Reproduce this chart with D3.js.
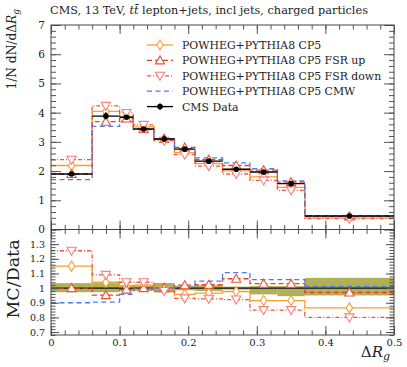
<!DOCTYPE html>
<html><head><meta charset="utf-8">
<script src="https://cdn.jsdelivr.net/npm/d3@7"></script>
<style>
html,body{margin:0;padding:0;background:#fff;}
svg{display:block;}
text{font-family:"DejaVu Serif","Liberation Serif",serif;fill:#222;}
</style></head>
<body>
<script>
// ---------- data ----------
const binEdges = [0, 0.06, 0.1, 0.12, 0.15, 0.18, 0.21, 0.25, 0.29, 0.33, 0.37, 0.5];
const binCenters = [0.03, 0.08, 0.11, 0.135, 0.165, 0.195, 0.23, 0.27, 0.31, 0.35, 0.435];
const cmsData = [1.90, 3.88, 3.84, 3.44, 3.10, 2.75, 2.34, 2.06, 1.97, 1.57, 0.46];
const cp5 = [2.19, 4.04, 3.88, 3.51, 3.10, 2.63, 2.26, 2.01, 1.80, 1.44, 0.40];
const fsrUp = [1.90, 3.69, 3.80, 3.44, 3.10, 2.81, 2.39, 2.19, 2.03, 1.62, 0.45];
const fsrDown = [2.39, 4.23, 3.99, 3.58, 3.04, 2.56, 2.17, 1.90, 1.68, 1.34, 0.37];
const cmw = [1.71, 3.53, 3.69, 3.42, 3.10, 2.77, 2.45, 2.28, 2.08, 1.66, 0.47];
const ratioCp5 = [1.15, 1.04, 1.01, 1.02, 1.00, 0.957, 0.966, 0.977, 0.915, 0.915, 0.865];
const ratioFsrUp = [1.00, 0.952, 0.99, 1.00, 1.00, 1.02, 1.023, 1.064, 1.03, 1.03, 0.97];
const ratioFsrDown = [1.255, 1.09, 1.04, 1.04, 0.98, 0.93, 0.927, 0.922, 0.85, 0.85, 0.80];
const ratioCmw = [0.90, 0.905, 0.957, 0.995, 1.00, 1.007, 1.048, 1.106, 1.058, 1.058, 1.012];
const bandHi = [1.034, 1.034, 1.02, 1.02, 1.035, 1.015, 1.02, 1.01, 1.014, 1.014, 1.07];
const bandLo = [0.972, 0.972, 0.98, 0.98, 0.97, 0.985, 0.98, 0.99, 0.957, 0.945, 0.95];
const topTicks = [0, 1, 2, 3, 4, 5, 6, 7];
const ratioTicks = [0.7, 0.8, 0.9, 1.0, 1.1, 1.2, 1.3];
const xTicks = [0, 0.1, 0.2, 0.3, 0.4, 0.5];
const legendLabels = ["POWHEG+PYTHIA8 CP5", "POWHEG+PYTHIA8 CP5 FSR up", "POWHEG+PYTHIA8 CP5 FSR down", "POWHEG+PYTHIA8 CP5 CMW", "CMS Data"];

// ---------- layout ----------
const W = 407, H = 367;
const L = 51, R = 394, T = 25, M = 229.5, B = 335;
const x = d3.scaleLinear().domain([0, 0.5]).range([L, R]);
const y = d3.scaleLinear().domain([0, 7]).range([M, T]);
const yr = d3.scaleLinear().domain([0.68, 1.4]).range([B, M]);

const svg = d3.select("body").append("svg").attr("width", W).attr("height", H);
const defs = svg.append("defs");
defs.append("clipPath").attr("id", "cTop").append("rect").attr("x", L).attr("y", T).attr("width", R - L).attr("height", M - T);
defs.append("clipPath").attr("id", "cRat").append("rect").attr("x", L).attr("y", M).attr("width", R - L).attr("height", B - M);

const styles = [
  {name: "cp5", color: "#f7a030", dash: null, marker: "diamond", mcol: "#f7a030"},
  {name: "up", color: "#e5412a", dash: "5,3", marker: "up", mcol: "#ec5438"},
  {name: "down", color: "#ee5540", dash: "4,2,1,2", marker: "down", mcol: "#f58080"},
  {name: "cmw", color: "#4a7cf0", dash: "5,3.5", marker: null, mcol: null}
];
const topSeries = [cp5, fsrUp, fsrDown, cmw];
const ratioSeries = [ratioCp5, ratioFsrUp, ratioFsrDown, ratioCmw];

function markerPath(type) {
  if (type === "diamond") return "M0,-5L3.2,0L0,5L-3.2,0Z";
  if (type === "up") return "M0,-4.5L4.6,3.5L-4.6,3.5Z";
  if (type === "down") return "M0,4.5L4.6,-3.5L-4.6,-3.5Z";
  return "";
}
function stepPts(vals) {
  const p = vals.map((v, i) => [binEdges[i], v]);
  p.push([binEdges[binEdges.length - 1], vals[vals.length - 1]]);
  return p;
}

// ---------- ratio band ----------
const gR = svg.append("g").attr("clip-path", "url(#cRat)");
gR.selectAll("rect.band").data(bandHi).join("rect")
  .attr("x", (d, i) => x(binEdges[i])).attr("width", (d, i) => x(binEdges[i + 1]) - x(binEdges[i]))
  .attr("y", d => yr(d)).attr("height", (d, i) => yr(bandLo[i]) - yr(d))
  .attr("fill", "#a3a23c").attr("opacity", 0.85);
gR.append("line").attr("x1", L).attr("x2", R).attr("y1", yr(1)).attr("y2", yr(1)).attr("stroke", "#111").attr("stroke-width", 1.2);

// ---------- MC histograms ----------
const gT = svg.append("g").attr("clip-path", "url(#cTop)");
function drawSeries(g, scaleY, seriesList) {
  const line = d3.line().x(d => x(d[0])).y(d => scaleY(d[1])).curve(d3.curveStepAfter);
  seriesList.forEach((vals, k) => {
    const s = styles[k];
    g.append("path").attr("d", line(stepPts(vals))).attr("fill", "none")
      .attr("stroke", s.color).attr("stroke-width", 1.3).attr("stroke-dasharray", s.dash);
  });
  seriesList.forEach((vals, k) => {
    const s = styles[k];
    if (!s.marker) return;
    g.selectAll(null).data(vals).join("path")
      .attr("transform", (d, i) => `translate(${x(binCenters[i])},${scaleY(d)})`)
      .attr("d", markerPath(s.marker)).attr("fill", "#fff").attr("stroke", s.mcol).attr("stroke-width", 1.1);
  });
}
drawSeries(gT, y, topSeries);
drawSeries(gR, yr, ratioSeries);

// ---------- data points ----------
const gD = gT.append("g");
cmsData.forEach((v, i) => {
  gD.append("line").attr("x1", x(binEdges[i])).attr("x2", x(binEdges[i + 1])).attr("y1", y(v)).attr("y2", y(v))
    .attr("stroke", "#000").attr("stroke-width", 1.4);
  gD.append("line").attr("x1", x(binCenters[i])).attr("x2", x(binCenters[i])).attr("y1", y(v * bandHi[i])).attr("y2", y(v * bandLo[i]))
    .attr("stroke", "#000").attr("stroke-width", 1.4);
  gD.append("circle").attr("cx", x(binCenters[i])).attr("cy", y(v)).attr("r", 2.8).attr("fill", "#000");
});

// ---------- axes ----------
const tickCol = "#555";
function styleAxis(g) {
  g.select(".domain").remove();
  g.selectAll(".tick line").attr("stroke", tickCol);
  g.selectAll("text").attr("font-family", "DejaVu Serif").attr("fill", "#222");
}
const xMinor = d3.range(0, 0.5001, 0.02).map(v => +v.toFixed(2));
const topMinor = d3.range(0, 7.0001, 0.2).map(v => +v.toFixed(1));
const ratMinor = d3.range(0.68, 1.4001, 0.02).map(v => +v.toFixed(2));

[[T, d3.axisTop], [M, d3.axisBottom]].forEach(([py, ax]) => {
  svg.append("g").attr("transform", `translate(0,${py})`).call(ax(x).tickValues(xMinor).tickSize(-4.5).tickFormat("")).call(styleAxis);
  svg.append("g").attr("transform", `translate(0,${py})`).call(ax(x).tickValues(xTicks).tickSize(-9).tickFormat("")).call(styleAxis);
});
svg.append("g").attr("transform", `translate(0,${M})`).call(d3.axisTop(x).tickValues(xMinor).tickSize(-4.5).tickFormat("")).call(styleAxis);
svg.append("g").attr("transform", `translate(0,${M})`).call(d3.axisTop(x).tickValues(xTicks).tickSize(-9).tickFormat("")).call(styleAxis);
svg.append("g").attr("transform", `translate(0,${B})`).call(d3.axisBottom(x).tickValues(xMinor).tickSize(-4.5).tickFormat("")).call(styleAxis);
svg.append("g").attr("transform", `translate(0,${B})`)
  .call(d3.axisBottom(x).tickValues(xTicks).tickSize(-9).tickPadding(4).tickFormat(d => d === 0 ? "0" : d3.format(".1f")(d)))
  .call(styleAxis).call(g => g.selectAll("text").attr("font-size", 10));

svg.append("g").attr("transform", `translate(${L},0)`).call(d3.axisLeft(y).tickValues(topMinor).tickSize(-5).tickFormat("")).call(styleAxis);
svg.append("g").attr("transform", `translate(${L},0)`)
  .call(d3.axisLeft(y).tickValues(topTicks).tickSize(-10).tickPadding(6).tickFormat(d3.format("d")))
  .call(styleAxis).call(g => g.selectAll("text").attr("font-size", 10.5));
svg.append("g").attr("transform", `translate(${R},0)`).call(d3.axisRight(y).tickValues(topMinor).tickSize(-5).tickFormat("")).call(styleAxis);
svg.append("g").attr("transform", `translate(${R},0)`).call(d3.axisRight(y).tickValues(topTicks).tickSize(-10).tickFormat("")).call(styleAxis);
svg.append("g").attr("transform", `translate(${L},0)`).call(d3.axisLeft(yr).tickValues(ratMinor).tickSize(-4.5).tickFormat("")).call(styleAxis);
svg.append("g").attr("transform", `translate(${L},0)`)
  .call(d3.axisLeft(yr).tickValues(ratioTicks).tickSize(-8).tickPadding(6).tickFormat(d => d === 1 ? "1" : d3.format(".1f")(d)))
  .call(styleAxis).call(g => g.selectAll("text").attr("font-size", 9.5));
svg.append("g").attr("transform", `translate(${R},0)`).call(d3.axisRight(yr).tickValues(ratMinor).tickSize(-4.5).tickFormat("")).call(styleAxis);
svg.append("g").attr("transform", `translate(${R},0)`).call(d3.axisRight(yr).tickValues(ratioTicks).tickSize(-8).tickFormat("")).call(styleAxis);

svg.append("rect").attr("x", L).attr("y", T).attr("width", R - L).attr("height", M - T).attr("fill", "none").attr("stroke", "#444").attr("stroke-width", 1);
svg.append("rect").attr("x", L).attr("y", M).attr("width", R - L).attr("height", B - M).attr("fill", "none").attr("stroke", "#444").attr("stroke-width", 1);

// ---------- legend ----------
const lg = svg.append("g");
const lx0 = 147, lx1 = 173, ly0 = 45, ldy = 15.4;
legendLabels.forEach((lab, k) => {
  const cy = ly0 + k * ldy;
  const row = lg.append("g");
  if (k < 4) {
    const s = styles[k];
    row.append("line").attr("x1", lx0).attr("x2", lx1).attr("y1", cy).attr("y2", cy)
      .attr("stroke", s.color).attr("stroke-width", 1.3).attr("stroke-dasharray", s.dash);
    if (s.marker) row.append("path").attr("transform", `translate(${(lx0 + lx1) / 2},${cy})`).attr("d", markerPath(s.marker))
      .attr("fill", "#fff").attr("stroke", s.mcol).attr("stroke-width", 1.1);
  } else {
    row.append("line").attr("x1", lx0).attr("x2", lx1).attr("y1", cy).attr("y2", cy).attr("stroke", "#000").attr("stroke-width", 1.4);
    row.append("line").attr("x1", (lx0 + lx1) / 2).attr("x2", (lx0 + lx1) / 2).attr("y1", cy - 3).attr("y2", cy + 3).attr("stroke", "#000").attr("stroke-width", 1.4);
    row.append("circle").attr("cx", (lx0 + lx1) / 2).attr("cy", cy).attr("r", 2.8).attr("fill", "#000");
  }
  row.append("text").attr("x", 182).attr("y", cy + 4).attr("font-size", 10.9).text(lab);
});

// ---------- titles ----------
const title = svg.append("text").attr("x", 50).attr("y", 14).attr("font-size", 11.3);
title.append("tspan").text("CMS, 13 TeV, ");
title.append("tspan").attr("font-style", "italic").text("t");
title.append("tspan").attr("font-style", "italic").text("t\u0304");
title.append("tspan").text(" lepton+jets, incl jets, charged particles");

const yl = svg.append("text").attr("transform", "translate(16,9) rotate(-90)").attr("text-anchor", "end").attr("font-size", 12.2);
yl.append("tspan").text("1/N dN/d\u0394");
yl.append("tspan").attr("font-style", "italic").text("R");
yl.append("tspan").attr("font-style", "italic").attr("font-size", 9).attr("dy", 3).text("g");

svg.append("text").attr("transform", "translate(19,279) rotate(-90)").attr("text-anchor", "middle").attr("font-size", 17.5).text("MC/Data");

const xl = svg.append("text").attr("x", 390).attr("y", 357).attr("text-anchor", "end").attr("font-size", 15);
xl.append("tspan").text("\u0394");
xl.append("tspan").attr("font-style", "italic").text("R");
xl.append("tspan").attr("font-style", "italic").attr("font-size", 11).attr("dy", 3).text("g");
</script>
</body></html>
